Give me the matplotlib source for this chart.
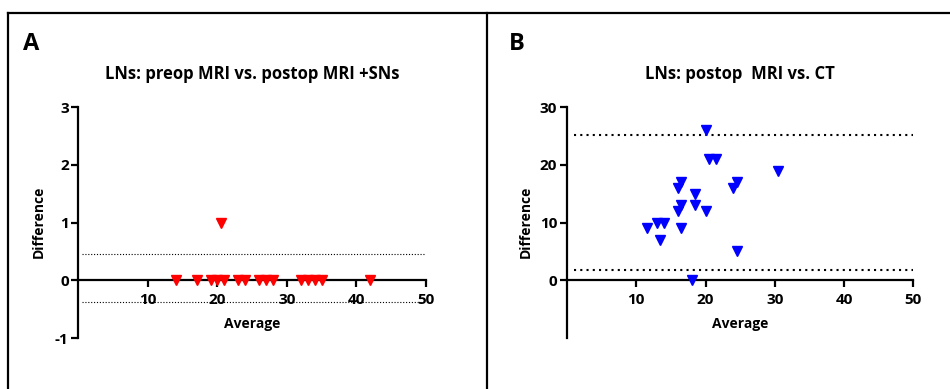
import matplotlib

matplotlib.use("Agg")
import matplotlib.pyplot as plt
from matplotlib.lines import Line2D

plt.rcParams["font.family"] = ["Open Sans", "DejaVu Sans"]
plt.rcParams["font.weight"] = "bold"
plt.rcParams["axes.unicode_minus"] = False

# Panel A: preop MRI vs postop MRI + SNs
a_avg = [14, 17, 19, 20, 21, 23, 24, 26, 27, 28, 32, 33, 34, 35, 42, 20.5]
a_diff = [0, 0, 0, 0, 0, 0, 0, 0, 0, 0, 0, 0, 0, 0, 0, 1]
a_limits = [0.45, -0.37]
a_title = "LNs: preop MRI vs. postop MRI +SNs"

# Panel B: postop MRI vs CT
b_avg = [20, 20.5, 21.5, 30.5, 16.5, 16, 24.5, 24, 18.5, 16.5,
         18.5, 16, 20, 13, 14, 11.5, 16.5, 13.5, 24.5, 18]
b_diff = [26, 21, 21, 19, 17, 16, 17, 16, 15, 13,
          13, 12, 12, 10, 10, 9, 9, 7, 5, 0]
b_limits = [25.2, 1.85]
b_title = "LNs: postop  MRI vs. CT"

x_ticks = [10, 20, 30, 40, 50]


def style_axes(ax, ylim, yticks):
    ax.set_xlim(0, 50)
    ax.set_ylim(*ylim)
    ax.spines["top"].set_visible(False)
    ax.spines["right"].set_visible(False)
    ax.spines["bottom"].set_position(("data", 0))
    for s in ("left", "bottom"):
        ax.spines[s].set_linewidth(1.6)
    ax.set_xticks(x_ticks)
    ax.set_yticks(yticks)
    ax.tick_params(axis="both", width=1.6, length=5, labelsize=11)
    ax.tick_params(axis="x", pad=4)
    ax.tick_params(axis="y", pad=2)
    ax.patch.set_alpha(0)


fig = plt.figure(figsize=(9.5, 3.89), dpi=100)

ax_a = fig.add_axes([0.0826, 0.1311, 0.3658, 0.5938])
ax_b = fig.add_axes([0.5968, 0.1311, 0.3646, 0.5938])

style_axes(ax_a, (-1, 3), [-1, 0, 1, 2, 3])
style_axes(ax_b, (-10, 30), [0, 10, 20, 30])

for y in a_limits:
    ax_a.plot([0.5, 50], [y, y], color="black", linewidth=0.8,
              linestyle=(0, (1, 1.6)), zorder=1)
ax_a.plot(a_avg, a_diff, "v", color="#ff0000", markersize=6.5,
          linestyle="none", clip_on=False, zorder=3)

for y in b_limits:
    ax_b.plot([1, 50], [y, y], color="black", linewidth=1.5,
              linestyle=(0, (1, 2)), zorder=1)
ax_b.plot(b_avg, b_diff, "v", color="#0000ff", markersize=6.5,
          linestyle="none", clip_on=False, zorder=3)

# titles, axis labels, panel letters
for ax, title, letter_x in ((ax_a, a_title, 0.0242), (ax_b, b_title, 0.5358)):
    pos = ax.get_position()
    cx = (pos.x0 + pos.x1) / 2
    fig.text(cx, 0.797, title, ha="center", va="baseline", fontsize=12)
    fig.text(cx, 0.167, "Average", ha="center", va="center", fontsize=10)
    fig.text(letter_x, 0.8715, "A" if ax is ax_a else "B", ha="left",
             va="baseline", fontsize=17)

fig.text(0.0403, 0.4293, "Difference", rotation=90, ha="center",
         va="center", fontsize=10)
fig.text(0.5533, 0.4293, "Difference", rotation=90, ha="center",
         va="center", fontsize=10)

# outer frame lines
frame = dict(color="black", linewidth=1.6, transform=fig.transFigure)
fig.add_artist(Line2D([0.0085, 1.0], [0.9666, 0.9666], **frame))
fig.add_artist(Line2D([0.0085, 0.0085], [0.0, 0.9666], **frame))
fig.add_artist(Line2D([0.5126, 0.5126], [0.0, 0.9666], **frame))

fig.savefig("out.png", dpi=100)
